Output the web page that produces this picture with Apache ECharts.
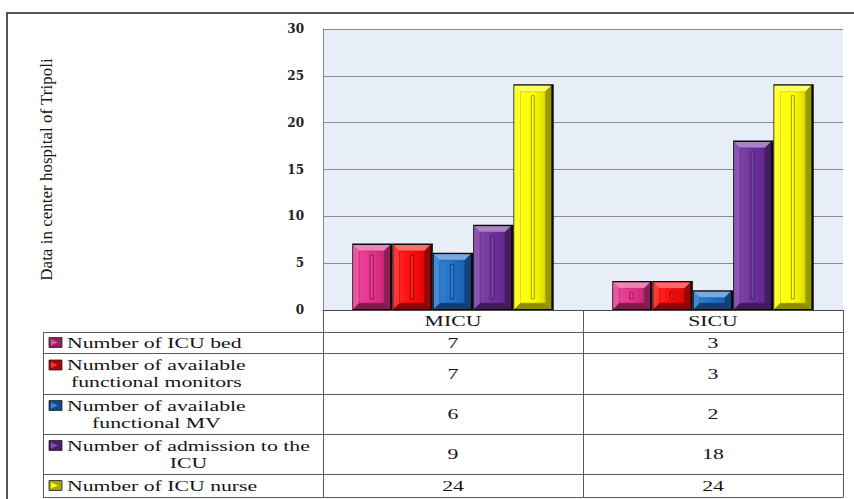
<!DOCTYPE html>
<html><head><meta charset="utf-8">
<script src="https://cdn.jsdelivr.net/npm/echarts@6/dist/echarts.min.js"></script>
<style>html,body{margin:0;padding:0;background:#fff}#c{width:854px;height:499px}</style>
</head><body><div id="c"></div>
<script>
// ---- data ----
const categories = ['MICU', 'SICU'];
const seriesNames = [
  'Number of ICU bed',
  'Number of available functional monitors',
  'Number of available functional MV',
  'Number of admission to the ICU',
  'Number of ICU nurse'
];
const tableLabels = [
  'Number of ICU bed',
  'Number of available\nfunctional monitors',
  'Number of available\nfunctional MV',
  'Number of admission to the\nICU',
  'Number of ICU nurse'
];
const icuBed = [7, 3];
const monitors = [7, 3];
const ventilators = [6, 2];
const admissions = [9, 18];
const nurses = [24, 24];
const yMin = 0, yMax = 30, yStep = 5;
const yTitle = 'Data in center hospital of Tripoli';

const seriesValues = [icuBed, monitors, ventilators, admissions, nurses];
const colors = ['#E8308C', '#FF0A0A', '#1E6FCC', '#7030A0', '#FFFF00'];

// ---- layout ----
const G = { left: 323, top: 29, right: 843, bottom: 310 };
const W = 854, H = 499;
const TABLE_LEFT = 43, LABEL_X = 67, SWATCH_X = 49;
const HEADER_H = 22;
const ROW_H = [21, 41, 40, 40, 23];
const TXT_SCALE = 1.45;
const TXT_FONT = 15, LINE_H = 17;
const FONT_FAMILY = '"Liberation Serif", serif';

function mix(hex, white, t) {
  const c = parseInt(hex.slice(1), 16);
  const r = c >> 16 & 255, g = c >> 8 & 255, b = c & 255;
  const T = white ? 255 : 0;
  return 'rgb(' + Math.round(r + (T - r) * t) + ',' + Math.round(g + (T - g) * t) + ',' + Math.round(b + (T - b) * t) + ')';
}

function renderBar(params, api) {
  const s = params.seriesIndex;
  const cat = api.value(0), v = api.value(1);
  const base = api.coord([cat, 0]);
  const top = api.coord([cat, v]);
  const band = api.size([1, 0])[0];
  const bw = band * 0.155;
  const x0 = base[0] - bw * 2.5 + s * bw;
  const col = colors[s];
  const h = base[1] - top[1];
  const ch0 = [];
  ch0.push({ type: 'rect', shape: { x: x0, y: top[1] - 1, width: bw, height: h + 1 }, style: { fill: '#0b0b0b' } });
  const cx = x0 + 1, cy = top[1] + 0.5, cw = bw - 3.6, ch = h - 1.5;
  const b = Math.max(1, Math.min(6, ch / 2.6, cw / 3));
  const L = cx, R = cx + cw, T = cy, B = cy + ch;
  // face
  ch0.push({ type: 'rect', shape: { x: L, y: T, width: cw, height: ch }, style: {
    fill: { type: 'linear', x: 0, y: 0, x2: 1, y2: 0, colorStops: [
      { offset: 0, color: mix(col, true, 0.15) }, { offset: 0.5, color: col }, { offset: 1, color: mix(col, false, 0.2) }] } } });
  // bevels
  ch0.push({ type: 'polygon', shape: { points: [[L, T], [R, T], [R - b, T + b], [L + b, T + b]] }, style: { fill: mix(col, true, 0.4) } });
  ch0.push({ type: 'polygon', shape: { points: [[L, T], [L + b, T + b], [L + b, B - b], [L, B]] }, style: { fill: mix(col, true, 0.18) } });
  ch0.push({ type: 'polygon', shape: { points: [[R, T], [R, B], [R - b, B - b], [R - b, T + b]] }, style: { fill: mix(col, false, 0.4) } });
  ch0.push({ type: 'polygon', shape: { points: [[L, B], [L + b, B - b], [R - b, B - b], [R, B]] }, style: { fill: mix(col, false, 0.45) } });
  // inner face outline
  ch0.push({ type: 'rect', shape: { x: L + b, y: T + b, width: cw - 2 * b, height: ch - 2 * b }, style: { fill: 'none', stroke: mix(col, false, 0.25), lineWidth: 0.6 } });
  // center groove
  const gy1 = T + b + 4, gy2 = B - b - 4;
  if (gy2 - gy1 > 4) {
    const mx = L + cw / 2;
    ch0.push({ type: 'rect', shape: { x: mx - 1.5, y: gy1, width: 3, height: gy2 - gy1 }, style: { fill: mix(col, true, 0.1), stroke: mix(col, false, 0.5), lineWidth: 0.8 } });
  }
  return { type: 'group', children: ch0 };
}

const series = seriesValues.map((vals, i) => ({
  type: 'custom',
  name: seriesNames[i],
  renderItem: renderBar,
  encode: { x: 0, y: 1 },
  data: vals.map((v, j) => [j, v]),
  clip: true
}));

// ---- table (graphic) ----
const meas = document.createElement('canvas').getContext('2d');
meas.font = TXT_FONT + 'px "Liberation Serif"';
const els = [];
const LINE = { stroke: '#5a5a5a', lineWidth: 1 };
function hline(y, x1, x2) { els.push({ type: 'line', silent: true, shape: { x1: x1, y1: y, x2: x2, y2: y }, style: LINE }); }
function vline(x, y1, y2) { els.push({ type: 'line', silent: true, shape: { x1: x, y1: y1, x2: x, y2: y2 }, style: LINE }); }
function txt(x, y, s, extra) {
  els.push(Object.assign({ type: 'text', x: x, y: y, scaleX: TXT_SCALE, silent: true, style: {
    text: s, x: 0, y: 0, align: 'center', verticalAlign: 'middle', fontSize: TXT_FONT, fontFamily: FONT_FAMILY,
    fill: '#141414', lineHeight: LINE_H } }, extra || {}));
}
const colW = (G.right - G.left) / categories.length;
// header
let y = G.bottom;
categories.forEach((c, j) => txt(G.left + colW * (j + 0.5), y + HEADER_H / 2, c));
y += HEADER_H;
const rowLines = [y];
seriesNames.forEach((nm, i) => {
  const rh = ROW_H[i];
  const cyR = y + rh / 2;
  const lines = tableLabels[i].split('\n');
  const bwid = Math.max.apply(null, lines.map(l => meas.measureText(l).width)) * TXT_SCALE;
  txt(LABEL_X + bwid / 2, cyR, tableLabels[i]);
  const sy = cyR - (lines.length - 1) * LINE_H / 2;
  const col = colors[i];
  els.push({ type: 'rect', silent: true, shape: { x: SWATCH_X, y: sy - 5, width: 13, height: 10 }, style: { fill: mix(col, false, 0.35), stroke: '#222', lineWidth: 0.8 } });
  els.push({ type: 'polygon', silent: true, shape: { points: [[SWATCH_X + 2, sy - 3], [SWATCH_X + 9, sy], [SWATCH_X + 2, sy + 3]] }, style: { fill: mix(col, true, 0.15) } });
  seriesValues[i].forEach((v, j) => txt(G.left + colW * (j + 0.5), cyR, String(v)));
  y += rh;
  rowLines.push(y);
});
rowLines.forEach(ly => hline(ly + 0.5, TABLE_LEFT, G.right));
vline(TABLE_LEFT + 0.5, rowLines[0], y + 0.5);
for (let j = 0; j <= categories.length; j++) vline(Math.round(G.left + colW * j) + 0.5, G.bottom, y + 0.5);
// outer frame
els.push({ type: 'rect', silent: true, shape: { x: 7, y: 13, width: 900, height: 600 }, style: { fill: 'none', stroke: '#1e1e1e', lineWidth: 1.5 } });

const chart = echarts.init(document.getElementById('c'), null, { renderer: 'svg', width: W, height: H });
chart.setOption({
  backgroundColor: '#ffffff',
  animation: false,
  grid: { left: G.left, top: G.top, width: G.right - G.left, height: G.bottom - G.top, show: true, backgroundColor: '#E7EEF7', borderWidth: 0 },
  xAxis: {
    type: 'category', data: categories,
    axisLine: { show: true, lineStyle: { color: '#4a4a4a', width: 1 } },
    axisTick: { show: false }, axisLabel: { show: false }, splitLine: { show: false }
  },
  yAxis: {
    type: 'value', min: yMin, max: yMax, interval: yStep,
    name: yTitle, nameLocation: 'middle', nameGap: 268,
    nameTextStyle: { fontFamily: FONT_FAMILY, fontSize: 17, color: '#141414' },
    axisLine: { show: true, lineStyle: { color: '#8a8a8a', width: 1 } },
    axisTick: { show: false },
    axisLabel: { margin: 19, fontFamily: '"DejaVu Serif", serif', fontWeight: 'bold', fontSize: 12, color: '#222' },
    splitLine: { show: true, lineStyle: { color: '#8c8c8c', width: 1 } }
  },
  series: series,
  graphic: { elements: els }
});
</script></body></html>
